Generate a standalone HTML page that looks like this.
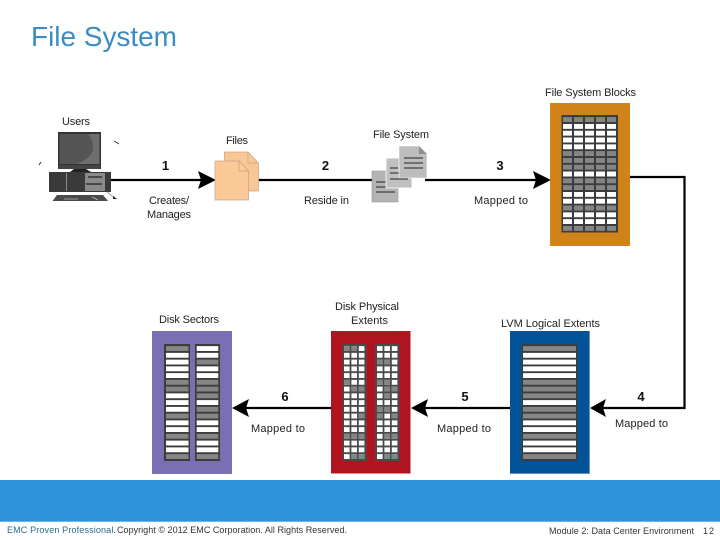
<!DOCTYPE html>
<html><head><meta charset="utf-8"><title>File System</title>
<style>
html,body{margin:0;padding:0;background:#fff}
svg{display:block}
text{font-family:"Liberation Sans",sans-serif;font-size:11px;fill:#222;text-anchor:middle}
.n{font-weight:bold;font-size:13px;fill:#111}
.f{font-size:9px;text-anchor:start;fill:#333}
.w{fill:none;stroke:#fff;stroke-width:4.9}
.g{fill:none;stroke:#858585;stroke-width:4.9}
.l{fill:none;stroke:#000;stroke-width:2.2}
.s{filter:blur(.3px)}
</style></head><body>
<svg width="720" height="540" viewBox="0 0 720 540" xmlns="http://www.w3.org/2000/svg">
<rect width="720" height="540" fill="#fff"/>
<text x="31" y="46" style="font-size:28px;text-anchor:start;fill:#3a8cc2" textLength="146">File System</text>

<!-- connectors -->
<path class="l" d="M110 180H205M258 180H372M425 180H540"/>
<path class="l" d="M630 177H684.5V408H600"/>
<path class="l" d="M510 408H420M331 408H240"/>
<path d="M216 180L198 171L201 180L198 189Z"/>
<path d="M551 180L533 171L536 180L533 189Z"/>
<path d="M590 408L606 399L603 408L606 417Z"/>
<path d="M411 408L428 399L425 408L428 417Z"/>
<path d="M232 408L249 399L246 408L249 417Z"/>

<!-- computer -->
<g class="s">
<rect x="58" y="132" width="43" height="37" fill="#333"/>
<rect x="59.500" y="134" width="40" height="30" fill="#555"/>
<path d="M88 134H99.500V164H76Q94 158 93 146Q92 138 88 134Z" fill="#6e6e6e"/>
<rect x="59" y="165" width="41" height="4" fill="#444"/>
<path d="M70 172L74 169H86L91 172Z" fill="#222"/>
<rect x="49" y="172" width="62" height="20" fill="#3a3a3a"/>
<rect x="85" y="173" width="20" height="18" fill="#8a8a8a"/>
<rect x="66" y="173" width="1" height="18" fill="#888"/>
<path d="M88 177H102M86 184H102" stroke="#222" stroke-width="1.2" fill="none"/>
<path d="M57 195H103L108 201H52.500Z" fill="#4a4a4a"/>
<path d="M64 199H78M92 197L98 200" stroke="#bbb" stroke-width=".8" fill="none"/>
<path d="M114 141L119 144M39 165L41 162" stroke="#333" stroke-width="1" fill="none"/>
<path d="M107 192L116 199" stroke="#999" stroke-width="1" fill="none"/>
<path d="M113 196L117 199L113 199Z" fill="#222"/>
</g>

<!-- files -->
<path d="M224.500 152H248L258.500 163V191H224.500Z" fill="#f9c797" stroke="#c9a27c" stroke-width=".7"/>
<path d="M248 152V163H258.500" fill="none" stroke="#c9a27c" stroke-width=".7"/>
<path d="M215 161H239L248.500 171V200H215Z" fill="#fcc998" stroke="#c9a27c" stroke-width=".7"/>
<path d="M239 161V171H248.500" fill="none" stroke="#c9a27c" stroke-width=".7"/>

<!-- file system docs -->
<rect x="372" y="171" width="26" height="31" fill="#b4b4b4" stroke="#999" stroke-width=".6"/>
<path d="M376 182H386M376 187H386M376 192H395" stroke="#222" fill="none"/>
<rect x="386" y="158" width="26" height="30" fill="#c0c0c0" stroke="#fff" stroke-width=".8"/>
<path d="M390 168H398M390 173H408M390 179H408" stroke="#222" fill="none"/>
<path d="M399 146H419L427 154V178H399Z" fill="#bdbdbd" stroke="#fff" stroke-width=".6"/>
<path d="M419 146V154H427Z" fill="#8e8e8e"/>
<path d="M404 158H423M404 163H423M404 168H423" stroke="#222" fill="none"/>

<!-- orange -->
<rect x="550" y="103" width="80" height="143" fill="#d08318"/>
<rect x="561.500" y="115" width="56.500" height="117.500" fill="#3c3c3c"/>
<path class="w" stroke-dasharray="9 2" d="M563 126.400h54M563 133.200h54M563 140h54M563 146.800h54M563 174h54M563 194.400h54M563 201.200h54M563 214.800h54M563 221.600h54"/>
<path class="g" stroke-dasharray="9 2" d="M563 119.600h54M563 153.600h54M563 160.400h54M563 167.200h54M563 180.800h54M563 187.600h54M563 208h54M563 228.400h54"/>

<!-- purple -->
<rect x="152" y="331" width="80" height="143" fill="#7b6fb4"/>
<rect x="164" y="344" width="26" height="117" fill="#3c3c3c"/>
<rect x="195" y="344" width="25" height="117" fill="#3c3c3c"/>
<path class="w" d="M166 355.350h22.500M166 362.100h22.500M166 368.850h22.500M166 375.600h22.500M166 395.850h22.500M166 402.600h22.500M166 409.350h22.500M166 422.850h22.500M166 429.600h22.500M166 443.100h22.500M166 449.850h22.500"/>
<path class="g" d="M166 348.600h22.500M166 382.350h22.500M166 389.100h22.500M166 416.100h22.500M166 436.350h22.500M166 456.600h22.500"/>
<path class="w" d="M196.700 348.600h21.600M196.700 355.350h21.600M196.700 368.850h21.600M196.700 375.600h21.600M196.700 402.600h21.600M196.700 422.850h21.600M196.700 429.600h21.600M196.700 443.100h21.600M196.700 449.850h21.600"/>
<path class="g" d="M196.700 362.100h21.600M196.700 382.350h21.600M196.700 389.100h21.600M196.700 395.850h21.600M196.700 409.350h21.600M196.700 416.100h21.600M196.700 436.350h21.600M196.700 456.600h21.600"/>

<!-- red -->
<rect x="331" y="331" width="79.500" height="142.500" fill="#b0141e"/>
<rect x="342.500" y="344" width="24" height="117" fill="#4a4a4a"/>
<rect x="375" y="344" width="24.500" height="117" fill="#4a4a4a"/>
<path class="w" stroke-dasharray="5.600 1.800" d="M344 348.600h21M344 355.350h21M344 362.100h21M344 368.850h21M344 375.600h21M344 382.350h21M344 389.100h21M344 395.850h21M344 402.600h21M344 409.350h21M344 416.100h21M344 422.850h21M344 429.600h21M344 436.350h21M344 443.100h21M344 449.850h21M344 456.600h21M377 348.600h21M377 355.350h21M377 362.100h21M377 368.850h21M377 375.600h21M377 382.350h21M377 389.100h21M377 395.850h21M377 402.600h21M377 409.350h21M377 416.100h21M377 422.850h21M377 429.600h21M377 436.350h21M377 443.100h21M377 449.850h21M377 456.600h21"/>
<path class="g" d="M344 348.600h5.600M351.400 348.600h5.600M344 382.350h5.600M351.400 389.100h5.600M358.800 389.100h5.600M358.800 416.100h5.600M344 436.350h5.600M351.400 436.350h5.600M358.800 436.350h5.600M351.400 456.600h5.600M358.800 456.600h5.600M377 362.100h5.600M384.400 362.100h5.600M377 382.350h5.600M384.400 382.350h5.600M384.400 389.100h5.600M391.800 389.100h5.600M384.400 395.850h5.600M377 409.350h5.600M384.400 409.350h5.600M377 416.100h5.600M391.800 416.100h5.600M384.400 436.350h5.600M391.800 436.350h5.600M384.400 456.600h5.600M391.800 456.600h5.600"/>

<!-- blue -->
<rect x="510" y="331" width="80" height="143" fill="#035399"/>
<path d="M510 473.500H590M589.500 331V474" stroke="#6f93b3" fill="none"/>
<rect x="521.500" y="344" width="56" height="117" fill="#3c3c3c"/>
<path class="w" d="M523 355.350h53M523 362.100h53M523 368.850h53M523 375.600h53M523 402.600h53M523 422.850h53M523 429.600h53M523 443.100h53M523 449.850h53"/>
<path class="g" d="M523 348.600h53M523 382.350h53M523 389.100h53M523 395.850h53M523 409.350h53M523 416.100h53M523 436.350h53M523 456.600h53"/>

<!-- band -->
<rect x="0" y="480" width="720" height="41.700" fill="#2d94dc"/>

<!-- labels -->
<text x="76" y="125" textLength="28">Users</text>
<text x="237" y="144" textLength="22">Files</text>
<text x="401" y="138" textLength="56">File System</text>
<text x="590.500" y="96" textLength="91">File System Blocks</text>
<text x="169" y="204" textLength="40">Creates/</text>
<text x="169" y="218" textLength="44">Manages</text>
<text x="326.500" y="204" textLength="45">Reside in</text>
<text x="501" y="204" textLength="54">Mapped to</text>
<text x="367" y="310" textLength="64">Disk Physical</text>
<text x="369.500" y="324" textLength="37">Extents</text>
<text x="189" y="323" textLength="60">Disk Sectors</text>
<text x="550.500" y="327" textLength="99">LVM Logical Extents</text>
<text x="278" y="432" textLength="54">Mapped to</text>
<text x="464" y="432" textLength="54">Mapped to</text>
<text x="641.500" y="427" textLength="53">Mapped to</text>
<text class="n" x="165.500" y="170">1</text>
<text class="n" x="325.500" y="170">2</text>
<text class="n" x="500" y="170">3</text>
<text class="n" x="641" y="401">4</text>
<text class="n" x="465" y="401">5</text>
<text class="n" x="285" y="401">6</text>

<!-- footer -->
<text class="f" x="7" y="533" textLength="109" style="fill:#2b6b8f">EMC Proven Professional.</text>
<text class="f" x="117" y="533" textLength="230">Copyright © 2012 EMC Corporation. All Rights Reserved.</text>
<text class="f" x="549" y="534" textLength="145">Module 2: Data Center Environment</text>
<text class="f" x="703" y="534" textLength="11">12</text>
</svg>
</body></html>
